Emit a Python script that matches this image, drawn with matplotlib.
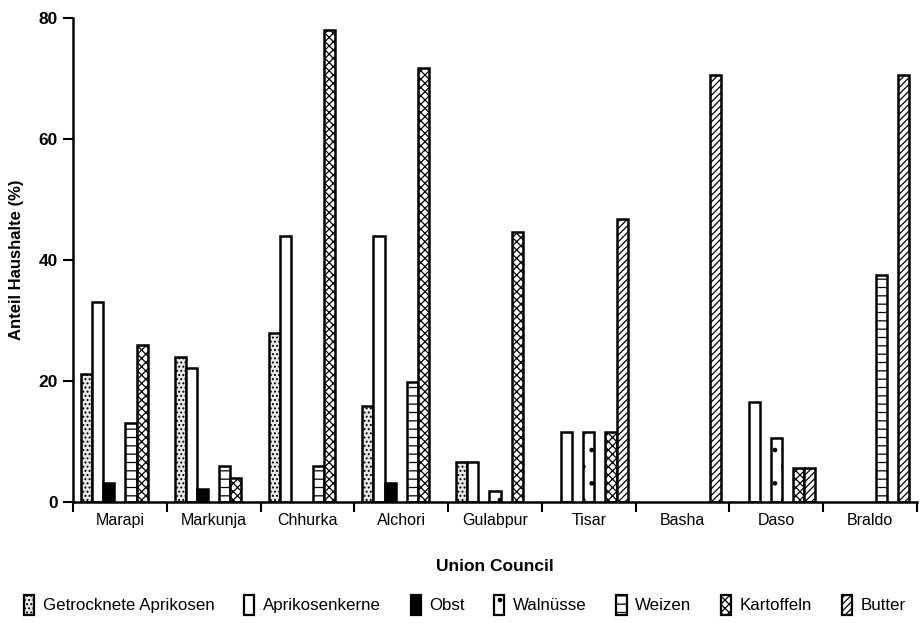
import matplotlib
matplotlib.use("Agg")
import matplotlib.pyplot as plt
from matplotlib.patches import Patch
import numpy as np

categories = ["Marapi", "Markunja", "Chhurka", "Alchori", "Gulabpur", "Tisar", "Basha", "Daso", "Braldo"]
series_names = ["Getrocknete Aprikosen", "Aprikosenkerne", "Obst", "Walnüsse", "Weizen", "Kartoffeln", "Butter"]

getrocknete = [21.1, 24.0, 27.9, 15.9, 6.6, 0, 0, 0, 0]
aprikosenkerne = [33.0, 22.1, 44.0, 44.0, 6.6, 11.6, 0, 16.5, 0]
obst = [3.2, 2.1, 0, 3.1, 0, 0, 0, 0, 0]
walnuesse = [0, 0, 0, 0, 1.8, 11.6, 0, 10.6, 0]
weizen = [13.0, 5.9, 6.0, 19.8, 0, 0, 0, 0, 37.5]
kartoffeln = [25.9, 4.0, 78.0, 71.7, 44.7, 11.6, 0, 5.6, 0]
butter = [0, 0, 0, 0, 0, 46.8, 70.6, 5.6, 70.6]

y_ticks = [0, 20, 40, 60, 80]

plt.rcParams['font.family'] = ['Liberation Sans', 'DejaVu Sans']
plt.rcParams['hatch.linewidth'] = 0.9

fig = plt.figure(figsize=(9.24, 6.23), dpi=100)
ax = fig.add_axes([73/924, 1-502/623, (917-73)/924, (502-18)/623])

all_series = [getrocknete, aprikosenkerne, obst, walnuesse, weizen, kartoffeln, butter]
styles = [
    dict(facecolor="#e8e8e8", hatch="...."),
    dict(facecolor="white", hatch=None),
    dict(facecolor="black", hatch=None),
    dict(facecolor="white", hatch="."),
    dict(facecolor="white", hatch="--"),
    dict(facecolor="white", hatch="xxxx"),
    dict(facecolor="white", hatch="/////"),
]

x = np.arange(len(categories))
w = 0.83 / 7
handles = []
for i, (vals, name, st) in enumerate(zip(all_series, series_names, styles)):
    bars = ax.bar(x + (i - 3) * w, vals, width=w, edgecolor="black", linewidth=1.8,
                  facecolor=st["facecolor"], hatch=st["hatch"])
    for b, v in zip(bars, vals):
        if v == 0:
            b.set_visible(False)
    handles.append(Patch(facecolor=st["facecolor"], hatch=st["hatch"], edgecolor="black",
                         linewidth=1.6, label=name))

ax.set_xlim(-0.5, len(categories) - 0.5)
ax.set_ylim(0, 80)
ax.set_yticks(y_ticks)
ax.set_yticklabels([str(t) for t in y_ticks], fontsize=12.5, fontweight="bold")
ax.set_xticks(np.arange(-0.5, len(categories), 1.0))
ax.set_xticklabels([])
ax.set_xticks(x, minor=True)
ax.set_xticklabels(categories, minor=True, fontsize=11.5)
ax.tick_params(axis="x", which="major", length=7, width=1.5, direction="out")
ax.tick_params(axis="x", which="minor", length=0, pad=8)
ax.tick_params(axis="y", length=7, width=1.5, direction="out", pad=4)

for s in ["top", "right"]:
    ax.spines[s].set_visible(False)
for s in ["left", "bottom"]:
    ax.spines[s].set_linewidth(1.8)

ax.set_ylabel("Anteil Haushalte (%)", fontsize=12, fontweight="bold", labelpad=10)
ax.set_xlabel("Union Council", fontsize=12.5, fontweight="bold", labelpad=22)

fig.legend(handles=handles, loc="lower center", bbox_to_anchor=(0.503, -0.012), ncol=7,
           frameon=False, fontsize=12.2, handlelength=0.6, handleheight=1.5,
           handletextpad=0.5, columnspacing=1.75)

fig.savefig("out.png", dpi=100)
